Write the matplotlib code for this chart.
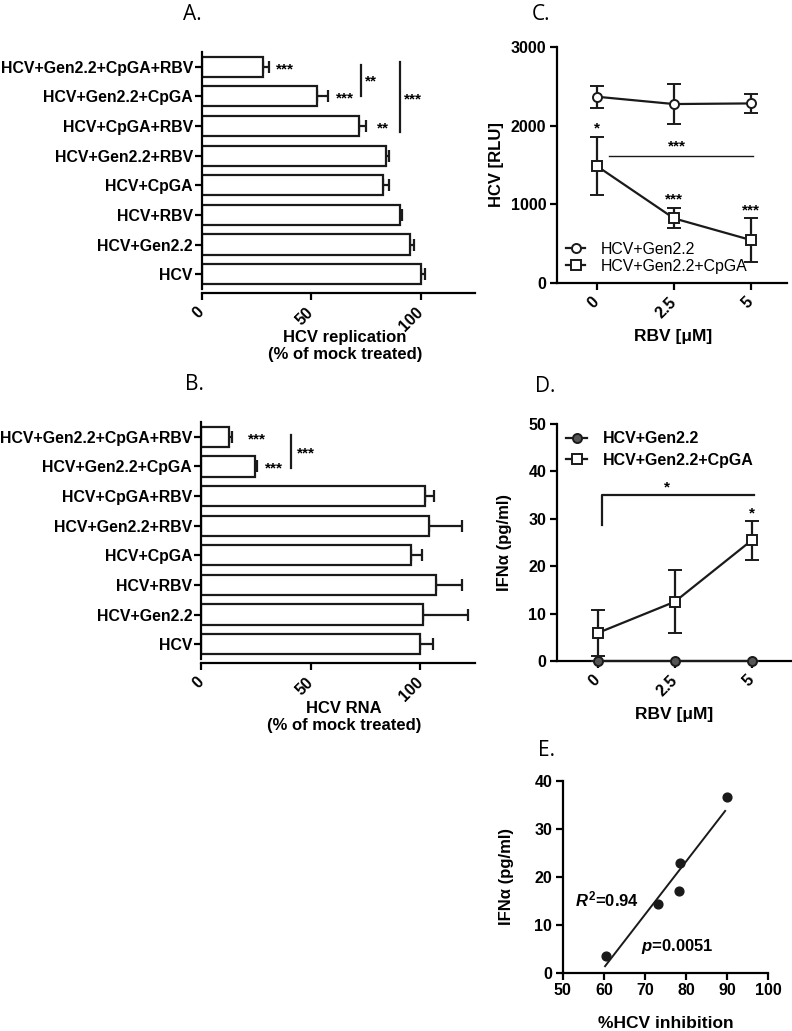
import numpy as np
import matplotlib
matplotlib.use("Agg")
import matplotlib.pyplot as plt
from matplotlib.lines import Line2D

plt.rcParams['font.family'] = ['Liberation Sans', 'DejaVu Sans']
plt.rcParams['font.weight'] = 'bold'
plt.rcParams['mathtext.fontset'] = 'custom'
plt.rcParams['mathtext.it'] = 'Liberation Sans:italic:bold'
plt.rcParams['mathtext.bf'] = 'Liberation Sans:bold'
plt.rcParams['mathtext.rm'] = 'Liberation Sans:bold'

# ---------------- data ----------------
categories = ["HCV+Gen2.2+CpGA+RBV", "HCV+Gen2.2+CpGA", "HCV+CpGA+RBV",
              "HCV+Gen2.2+RBV", "HCV+CpGA", "HCV+RBV", "HCV+Gen2.2", "HCV"]
a_values = [27.7, 52.5, 72.0, 84.0, 82.7, 90.8, 95.3, 100.0]
a_errors = [2.8, 5.0, 3.0, 1.5, 2.8, 0.8, 1.5, 2.0]
b_values = [12.7, 24.5, 102.0, 104.0, 95.6, 107.0, 101.0, 100.0]
b_errors = [1.3, 0.8, 4.0, 15.0, 5.0, 11.8, 20.8, 5.6]
bar_ticks = [0, 50, 100]

rbv_labels = ["0", "2.5", "5"]
c_gen22 = [2368, 2275, 2283]
c_gen22_err = [142, 250, 118]
c_cpga = [1487, 822, 546]
c_cpga_err = [371, 127, 275]
c_yticks = [0, 1000, 2000, 3000]

d_gen22 = [0, 0, 0]
d_gen22_err = [0, 0, 0]
d_cpga = [5.9, 12.5, 25.5]
d_cpga_err = [4.9, 6.6, 4.1]
d_yticks = [0, 10, 20, 30, 40, 50]

e_inhibition = [60.5, 73.1, 78.4, 78.5, 89.9]
e_ifna = [3.5, 14.3, 17.1, 22.8, 36.6]
e_xticks = [50, 60, 70, 80, 90, 100]
e_yticks = [0, 10, 20, 30, 40]

W, H = 792, 1031
fig = plt.figure(figsize=(W / 100, H / 100), dpi=100)

LW = 1.6
TFS = 11.5
K = '#1a1a1a'


def ft(x, y, s, **kw):
    fig.text(x / W, 1 - y / H, s, **kw)


def style(ax, fs=TFS):
    for s in ['top', 'right']:
        ax.spines[s].set_visible(False)
    for s in ['left', 'bottom']:
        ax.spines[s].set_linewidth(LW)
    ax.tick_params(width=LW, length=5, labelsize=fs, direction='out', pad=2.5)
    for lab in ax.get_xticklabels() + ax.get_yticklabels():
        lab.set_fontweight('bold')


def rot_xticks(ax):
    ax.tick_params(axis='x', pad=7)
    for lab in ax.get_xticklabels():
        lab.set_rotation(45)
        lab.set_ha('right')
        lab.set_va('center')
        lab.set_rotation_mode('anchor')


def bar_panel(rect, vals, errs):
    ax = fig.add_axes(rect)
    n = len(categories)
    pos = np.arange(n)[::-1]
    ax.barh(pos, vals, height=0.68, color='white', edgecolor=K,
            linewidth=LW, zorder=2)
    ax.errorbar(vals, pos, xerr=[np.zeros(n), errs], fmt='none',
                ecolor=K, elinewidth=LW, capsize=4.5, capthick=LW,
                zorder=1)
    ax.set_ylim(-0.5, n - 0.5)
    ax.set_xlim(0, 125)
    ax.set_yticks(pos)
    ax.set_yticklabels(categories)
    ax.set_xticks(bar_ticks)
    style(ax, fs=11.5)
    ax.tick_params(axis='y', labelsize=11.4, pad=1.5)
    ax.spines['bottom'].set_position(('outward', 3))
    rot_xticks(ax)
    return ax, pos


def legend_handles(d_fill):
    return [Line2D([], [], color=K, lw=LW, marker='o', ms=6.5, mfc=d_fill,
                   mec=K, mew=1.4),
            Line2D([], [], color=K, lw=LW, marker='s', ms=7, mfc='white',
                   mec=K, mew=1.4)]


# ---------------- Panel A ----------------
axA, pos = bar_panel([0.255, 0.7197, 0.345, 0.2299], a_values, a_errors)
sk = dict(fontsize=11, fontweight='bold', va='center', ha='left')
axA.text(34, pos[0] - 0.08, "***", **sk)
axA.text(61.5, pos[1] - 0.08, "***", **sk)
axA.text(80, pos[2] - 0.08, "**", **sk)
axA.plot([72.6, 72.6], [pos[0] + 0.05, pos[1] - 0.0], color=K, lw=LW)
axA.text(74.5, (pos[0] + pos[1]) / 2 + 0.0, "**", **sk)
axA.plot([90.4, 90.4], [pos[0] + 0.15, pos[2] - 0.2], color=K, lw=LW)
axA.text(92.5, pos[1] - 0.12, "***", **sk)
ft(345, 346, "HCV replication\n(% of mock treated)", ha='center', va='center',
   fontsize=12, fontweight='bold', linespacing=1.1)
ft(192, 14, "A.", ha='center', va='center', fontsize=15, fontweight='normal',
   family='Open Sans')

# ---------------- Panel B ----------------
axB, pos = bar_panel([0.254, 0.3608, 0.346, 0.2299], b_values, b_errors)
axB.text(21.5, pos[0] - 0.08, "***", **sk)
axB.text(29, pos[1] - 0.08, "***", **sk)
axB.plot([41, 41], [pos[0] + 0.05, pos[1] - 0.05], color=K, lw=LW)
axB.text(43.5, (pos[0] + pos[1]) / 2 - 0.05, "***", **sk)
ft(344, 717, "HCV RNA\n(% of mock treated)", ha='center', va='center',
   fontsize=12, fontweight='bold', linespacing=1.1)
ft(194, 385, "B.", ha='center', va='center', fontsize=15, fontweight='normal',
   family='Open Sans')

# ---------------- Panel C ----------------
axC = fig.add_axes([0.703, 0.7255, 0.291, 0.2289])
x = np.arange(len(rbv_labels))
axC.errorbar(x, c_gen22, yerr=c_gen22_err, color=K, lw=LW,
             elinewidth=LW, capsize=5, capthick=LW, marker='o', ms=6.5,
             mfc='white', mec=K, mew=1.4)
axC.errorbar(x, c_cpga, yerr=c_cpga_err, color=K, lw=LW,
             elinewidth=LW, capsize=5, capthick=LW, marker='s', ms=7,
             mfc='white', mec=K, mew=1.4)
axC.set_xlim(-0.52, 2.47)
axC.set_ylim(0, 3000)
axC.set_yticks(c_yticks)
axC.set_xticks(x)
axC.set_xticklabels(rbv_labels)
style(axC)
rot_xticks(axC)
axC.text(0, 1960, "*", ha='center', va='center', fontsize=11, fontweight='bold')
axC.text(1, 1060, "***", ha='center', va='center', fontsize=11, fontweight='bold')
axC.text(2, 925, "***", ha='center', va='center', fontsize=11, fontweight='bold')
axC.plot([0.16, 2.02], [1617, 1617], color=K, lw=1.0)
axC.text(1.04, 1735, "***", ha='center', va='center', fontsize=11, fontweight='bold')
axC.legend(legend_handles('white'), ['HCV+Gen2.2', 'HCV+Gen2.2+CpGA'],
           loc='lower left', bbox_to_anchor=(0.0, 0.0), frameon=False,
           prop={'size': 11.4, 'weight': 'normal'}, handlelength=1.2,
           handletextpad=1.0, labelspacing=0.1, borderaxespad=0.2)
axC.set_ylabel("HCV [RLU]", fontsize=12, fontweight='bold')
axC.yaxis.set_label_coords(-0.23, 0.5)
ft(673, 337, "RBV [\u03bcM]", ha='center', va='center', fontsize=12.5,
   fontweight='bold')
ft(541, 14, "C.", ha='center', va='center', fontsize=15, fontweight='normal',
   family='Open Sans')

# ---------------- Panel D ----------------
axD = fig.add_axes([0.703, 0.3589, 0.297, 0.2298])
axD.errorbar(x, d_gen22, yerr=d_gen22_err, color=K, lw=LW,
             elinewidth=LW, capsize=5, capthick=LW, marker='o', ms=6.5,
             mfc='#555555', mec=K, mew=1.4, clip_on=False, zorder=3)
axD.errorbar(x, d_cpga, yerr=d_cpga_err, color=K, lw=LW,
             elinewidth=LW, capsize=5, capthick=LW, marker='s', ms=7,
             mfc='white', mec=K, mew=1.4)
axD.set_xlim(-0.53, 2.52)
axD.set_ylim(0, 50)
axD.set_yticks(d_yticks)
axD.set_xticks(x)
axD.set_xticklabels(rbv_labels)
style(axD)
rot_xticks(axD)
axD.plot([0.05, 0.05, 2.03], [28.7, 35, 35], color=K, lw=LW)
axD.text(0.9, 36.6, "*", ha='center', va='center', fontsize=11, fontweight='bold')
axD.text(2.0, 31.2, "*", ha='center', va='center', fontsize=11, fontweight='bold')
axD.legend(legend_handles('#555555'), ['HCV+Gen2.2', 'HCV+Gen2.2+CpGA'],
           loc='upper left', bbox_to_anchor=(0.0, 1.01), frameon=False,
           prop={'size': 11.5, 'weight': 'bold'}, handlelength=1.3,
           handletextpad=1.0, labelspacing=0.42, borderaxespad=0.2)
axD.set_ylabel("IFN\u03b1 (pg/ml)", fontsize=12, fontweight='bold')
axD.yaxis.set_label_coords(-0.19, 0.5)
ft(674, 715, "RBV [\u03bcM]", ha='center', va='center', fontsize=12.5,
   fontweight='bold')
ft(545, 387, "D.", ha='center', va='center', fontsize=15, fontweight='normal',
   family='Open Sans')

# ---------------- Panel E ----------------
axE = fig.add_axes([0.7105, 0.0566, 0.2596, 0.1859])
axE.scatter(e_inhibition, e_ifna, s=40, color=K, zorder=3)
slope, intercept = np.polyfit(e_inhibition, e_ifna, 1)
xx = np.array([min(e_inhibition) - 0.2, max(e_inhibition) - 0.4])
axE.plot(xx, slope * xx + intercept, color=K, lw=1.4)
axE.set_xlim(50, 100)
axE.set_ylim(0, 40)
axE.set_xticks(e_xticks)
axE.set_yticks(e_yticks)
style(axE)
axE.text(53.0, 15.2, "$\\it{R}^{2}$=0.94", ha='left',
         va='center', fontsize=12, fontweight='bold')
axE.text(69.0, 5.4, "$\\it{p}$=0.0051", ha='left', va='center', fontsize=12,
         fontweight='bold')
axE.set_ylabel("IFN\u03b1 (pg/ml)", fontsize=12, fontweight='bold')
axE.yaxis.set_label_coords(-0.235, 0.5)
ft(666, 1023, "%HCV inhibition", ha='center', va='center', fontsize=12.5,
   fontweight='bold')
ft(546, 750, "E.", ha='center', va='center', fontsize=15, fontweight='normal',
   family='Open Sans')

fig.savefig("out.png", dpi=100)
